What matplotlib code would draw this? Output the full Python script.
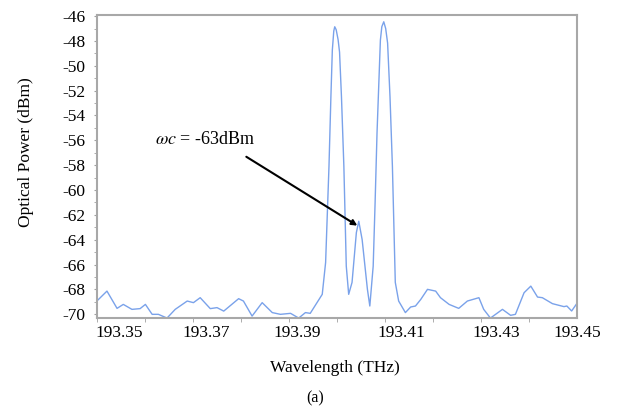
import numpy as np
import matplotlib
matplotlib.use("Agg")
import matplotlib.pyplot as plt

plt.rcParams['font.family'] = ['Liberation Serif', 'DejaVu Serif']
plt.rcParams['mathtext.fontset'] = 'stix'

# spectrum (THz, dBm)
freq = [193.3500, 193.3521, 193.3542, 193.3555, 193.3573, 193.3590, 193.3601,
        193.3615, 193.3628, 193.3646, 193.3663, 193.3688, 193.3701, 193.3715,
        193.3736, 193.3750, 193.3764, 193.3795, 193.3805, 193.3823, 193.3844,
        193.3865, 193.3882, 193.3903, 193.3920, 193.3934, 193.3944, 193.3969,
        193.3976, 193.3983, 193.3987, 193.3990, 193.3993, 193.3995, 193.3998,
        193.4002, 193.4005, 193.4009, 193.4014, 193.4019, 193.4024, 193.4031,
        193.4040, 193.4045, 193.4052, 193.4063, 193.4068, 193.4075, 193.4079,
        193.4083, 193.4090, 193.4093, 193.4097, 193.4101, 193.4105, 193.4110,
        193.4115, 193.4121, 193.4128, 193.4142, 193.4153, 193.4163, 193.4174,
        193.4188, 193.4205, 193.4215, 193.4233, 193.4253, 193.4271, 193.4295,
        193.4305, 193.4319, 193.4344, 193.4361, 193.4371, 193.4389, 193.4403,
        193.4417, 193.4427, 193.4448, 193.4472, 193.4478, 193.4488, 193.4500]
power = [-68.93, -68.13, -69.52, -69.20, -69.60, -69.54, -69.20,
         -70.00, -70.00, -70.30, -69.60, -68.93, -69.06, -68.66,
         -69.54, -69.46, -69.74, -68.74, -68.93, -70.14, -69.06,
         -69.86, -70.00, -69.92, -70.30, -69.86, -69.92, -68.39,
         -65.83, -58.10, -52.50, -48.73, -47.20, -46.86, -47.10,
         -47.90, -48.90, -52.50, -58.10, -66.12, -68.39, -67.43,
         -63.42, -62.51, -63.98, -67.99, -69.33, -66.12, -61.00,
         -55.39, -47.93, -46.85, -46.46, -47.00, -48.17, -52.50,
         -58.10, -67.43, -68.93, -69.86, -69.41, -69.33, -68.80,
         -67.99, -68.13, -68.66, -69.20, -69.52, -68.93, -68.66,
         -69.60, -70.30, -69.60, -70.08, -70.00, -68.26, -67.73,
         -68.61, -68.66, -69.14, -69.38, -69.33, -69.73, -69.06]

xtick_pos = [193.3546, 193.3728, 193.3916, 193.4134, 193.4331, 193.4500]
xtick_labels = ['193.35', '193.37', '193.39', '193.41', '193.43', '193.45']
xminor = np.arange(193.35, 193.4501, 0.01)
yticks = np.arange(-70, -45, 2)

fig = plt.figure(figsize=(6.29, 4.12), dpi=100)
ax = fig.add_axes([0.154, 0.228, 0.764, 0.736])

ax.plot(freq, power, color='#7aa2ea', lw=1.0)

ax.set_xlim(193.35, 193.45)
ax.set_ylim(-70.3, -45.9)

ax.set_xticks(xtick_pos)
ax.set_xticklabels(xtick_labels, fontsize=12.5)
ax.set_xticks(xminor, minor=True)
ax.tick_params(axis='x', which='major', length=0, pad=5)
ax.tick_params(axis='x', which='minor', length=3, color='#a0a0a0', direction='out')

ax.set_yticks(yticks)
ax.set_yticklabels([str(v) for v in yticks], fontsize=12.5)
ax.set_yticks(np.arange(-70, -45, 1), minor=True)
ax.tick_params(axis='y', which='both', length=2, color='#a0a0a0', direction='out', pad=6)

for s in ax.spines.values():
    s.set_color('#a8a8a8')
    s.set_linewidth(1.5)

ax.text(193.3622, -55.96, r'$\omega c$ = -63dBm', fontsize=13, va='center', ha='left')
ax.annotate('', xy=(193.4042, -62.86), xytext=(193.3811, -57.32),
            arrowprops=dict(arrowstyle='-|>', color='black', lw=1.5,
                            mutation_scale=8, shrinkA=0, shrinkB=0))

fig.text(26 / 629, 1 - 152 / 412, 'Optical Power (dBm)', rotation=90,
         fontsize=12.5, ha='center', va='center')
fig.text(335 / 629, 1 - 368 / 412, 'Wavelength (THz)', fontsize=12.5,
         ha='center', va='center')
fig.text(315 / 629, 1 - 398 / 412, '(a)', fontsize=11.5, ha='center', va='center')

fig.savefig('out.png', dpi=100)
